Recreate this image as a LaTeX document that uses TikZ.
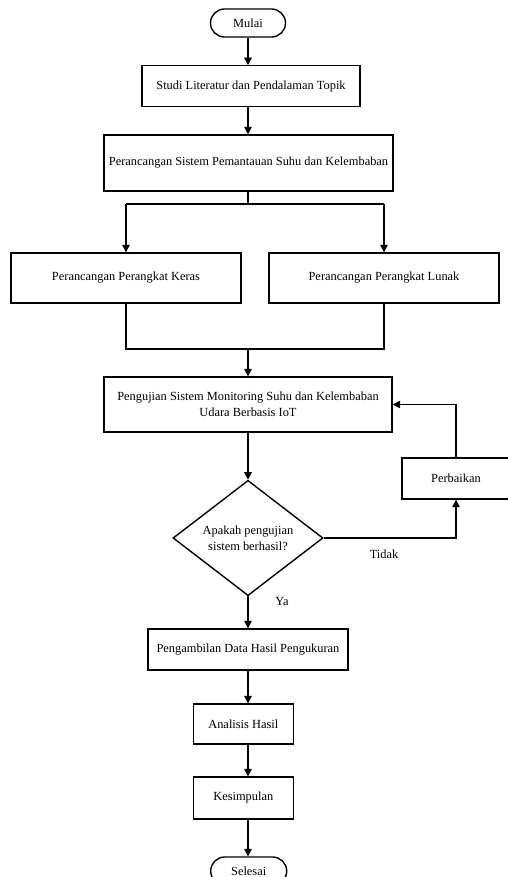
\documentclass[tikz,border=0pt]{standalone}
\usepackage{fontspec}
\setmainfont{Liberation Serif}
\usetikzlibrary{arrows.meta,shapes.geometric}
\begin{document}
\begin{tikzpicture}[x=1pt,y=-1pt,
  every node/.style={font=\fontsize{12.4}{16}\selectfont},
  box/.style={draw,line width=1.4pt,rectangle,inner sep=0pt,align=center},
  term/.style={draw,line width=1.4pt,rectangle,rounded corners=14pt,inner sep=0pt},
  dec/.style={draw,line width=1.4pt,diamond,inner sep=0pt,align=center},
  conn/.style={line width=1.4pt},
  arr/.style={line width=1.4pt,-{Triangle[length=7.5pt,width=7.5pt]}}]
\useasboundingbox (0,0) rectangle (508,877);
\node[term,minimum width=75pt,minimum height=28pt] (mulai) at (248,23) {Mulai};
\node[box,minimum width=218pt,minimum height=41pt] (studi) at (251,86.3) {Studi Literatur dan Pendalaman Topik};
\node[box,minimum width=289pt,minimum height=56pt] (sistem) at (248.5,163) {Perancangan Sistem Pemantauan Suhu dan Kelembaban};
\node[box,minimum width=230pt,minimum height=50pt] (keras) at (126,278) {Perancangan Perangkat Keras};
\node[box,minimum width=230pt,minimum height=50pt] (lunak) at (384,278) {Perancangan Perangkat Lunak};
\node[box,minimum width=288pt,minimum height=55pt] (uji) at (248,404.5) {Pengujian Sistem Monitoring Suhu dan Kelembaban\\Udara Berbasis IoT};
\node[dec,minimum width=150pt,minimum height=111pt] (cek) at (248,538) {Apakah pengujian\\sistem berhasil?};
\node[box,minimum width=108pt,minimum height=41pt] (baik) at (456,478.5) {Perbaikan};
\node[box,minimum width=200pt,minimum height=41pt] (ambil) at (248,649.5) {Pengambilan Data Hasil Pengukuran};
\node[box,minimum width=100pt,minimum height=40pt] (analisis) at (243.3,724) {Analisis Hasil};
\node[box,minimum width=100pt,minimum height=42pt] (simpul) at (243.3,798) {Kesimpulan};
\node[term,minimum width=76pt,minimum height=28pt] (selesai) at (248.7,871) {Selesai};
\node (tidak) at (384,554) {Tidak};
\node (ya) at (282,601) {Ya};
\coordinate (split) at (248,204);
\coordinate (splitL) at (126,204);
\coordinate (splitR) at (384,204);
\coordinate (joinL) at (126,349);
\coordinate (joinR) at (384,349);
\coordinate (join) at (248,349);
\coordinate (x1) at (248,0);
\draw[arr] (mulai.south) -- (mulai.south |- studi.north);
\draw[arr] (x1 |- studi.south) -- (x1 |- sistem.north);
\draw[conn] (x1 |- sistem.south) -- (split);
\draw[conn] (splitL) -- (splitR);
\draw[arr] (splitL) -- (keras.north);
\draw[arr] (splitR) -- (lunak.north);
\draw[conn] (keras.south) -- (joinL) -- (joinR) -- (lunak.south);
\draw[arr] (join) -- (uji.north);
\draw[arr] (uji.south) -- (cek.north);
\draw[arr] (cek.east) -| (baik.south);
\draw[arr] (baik.north) |- (uji.east);
\draw[arr] (cek.south) -- (ambil.north);
\draw[arr] (x1 |- ambil.south) -- (x1 |- analisis.north);
\draw[arr] (x1 |- analisis.south) -- (x1 |- simpul.north);
\draw[arr] (x1 |- simpul.south) -- (x1 |- selesai.north);
\end{tikzpicture}
\end{document}
